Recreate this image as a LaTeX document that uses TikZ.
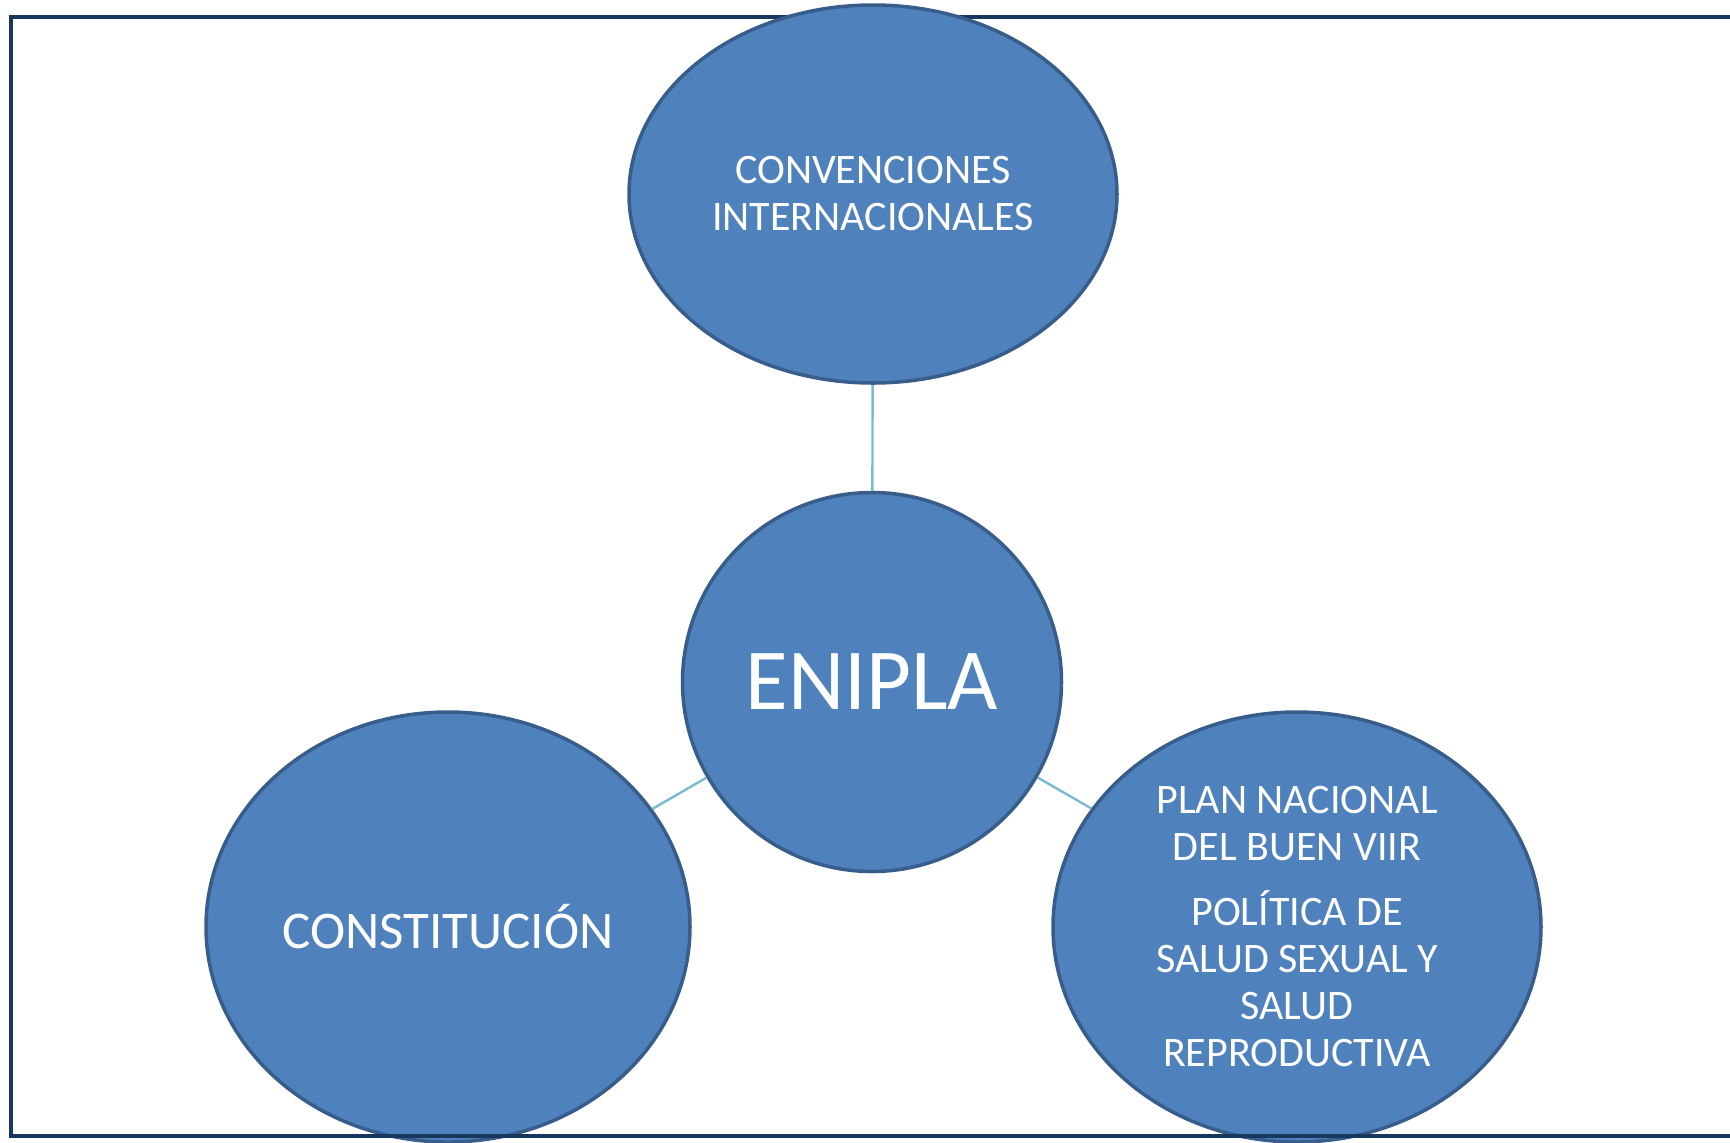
\documentclass[tikz,border=0pt]{standalone}
\usepackage{fontspec}
\setmainfont{Carlito}
\usetikzlibrary{shapes.geometric}
\definecolor{bubblefill}{RGB}{79,129,189}
\definecolor{bubbleline}{RGB}{56,93,138}
\definecolor{linkline}{RGB}{122,186,206}
\definecolor{framenavy}{RGB}{23,55,94}
\begin{document}
\begin{tikzpicture}[x=0.5pt,y=-0.5pt,
bubble/.style={
% The shape:
ellipse,
inner sep=0pt,
% The border:
line width=1.75pt,
draw=bubbleline,
% The filling:
fill=bubblefill,
% Font
text=white,
align=center,
font={\fontsize{21}{23.5}\selectfont}
},
link/.style={
line width=1.2pt,
draw=linkline
},
frameline/.style={
line width=2pt,
draw=framenavy
}]
\useasboundingbox (0,0) rectangle (1730,1142);
\clip (0,0) rectangle (1730,1142);
\draw [frameline] (11,1136) -- (11,17) -- (1730,17);
\node [bubble, minimum width=244pt, minimum height=189pt] (conv) at (873,194)
{CONVENCIONES\\INTERNACIONALES};
\node [bubble, minimum width=189.5pt, minimum height=189.5pt,
font={\fontsize{43.5}{48}\selectfont}] (enipla) at (872,682) {ENIPLA};
\node [bubble, minimum width=242pt, minimum height=215pt,
font={\fontsize{26.5}{30}\selectfont}] (const) at (448,927) {CONSTITUCIÓN};
\node [bubble, minimum width=244pt, minimum height=215pt] (plan) at (1297,927)
{PLAN NACIONAL\\DEL BUEN VIIR\\[9pt]POLÍTICA DE\\SALUD SEXUAL Y\\SALUD\\REPRODUCTIVA};
\draw [link] (enipla) -- (conv);
\draw [link] (enipla) -- (const);
\draw [link] (enipla) -- (plan);
\draw [frameline] (9,1136) -- (1730,1136);
\end{tikzpicture}
\end{document}
